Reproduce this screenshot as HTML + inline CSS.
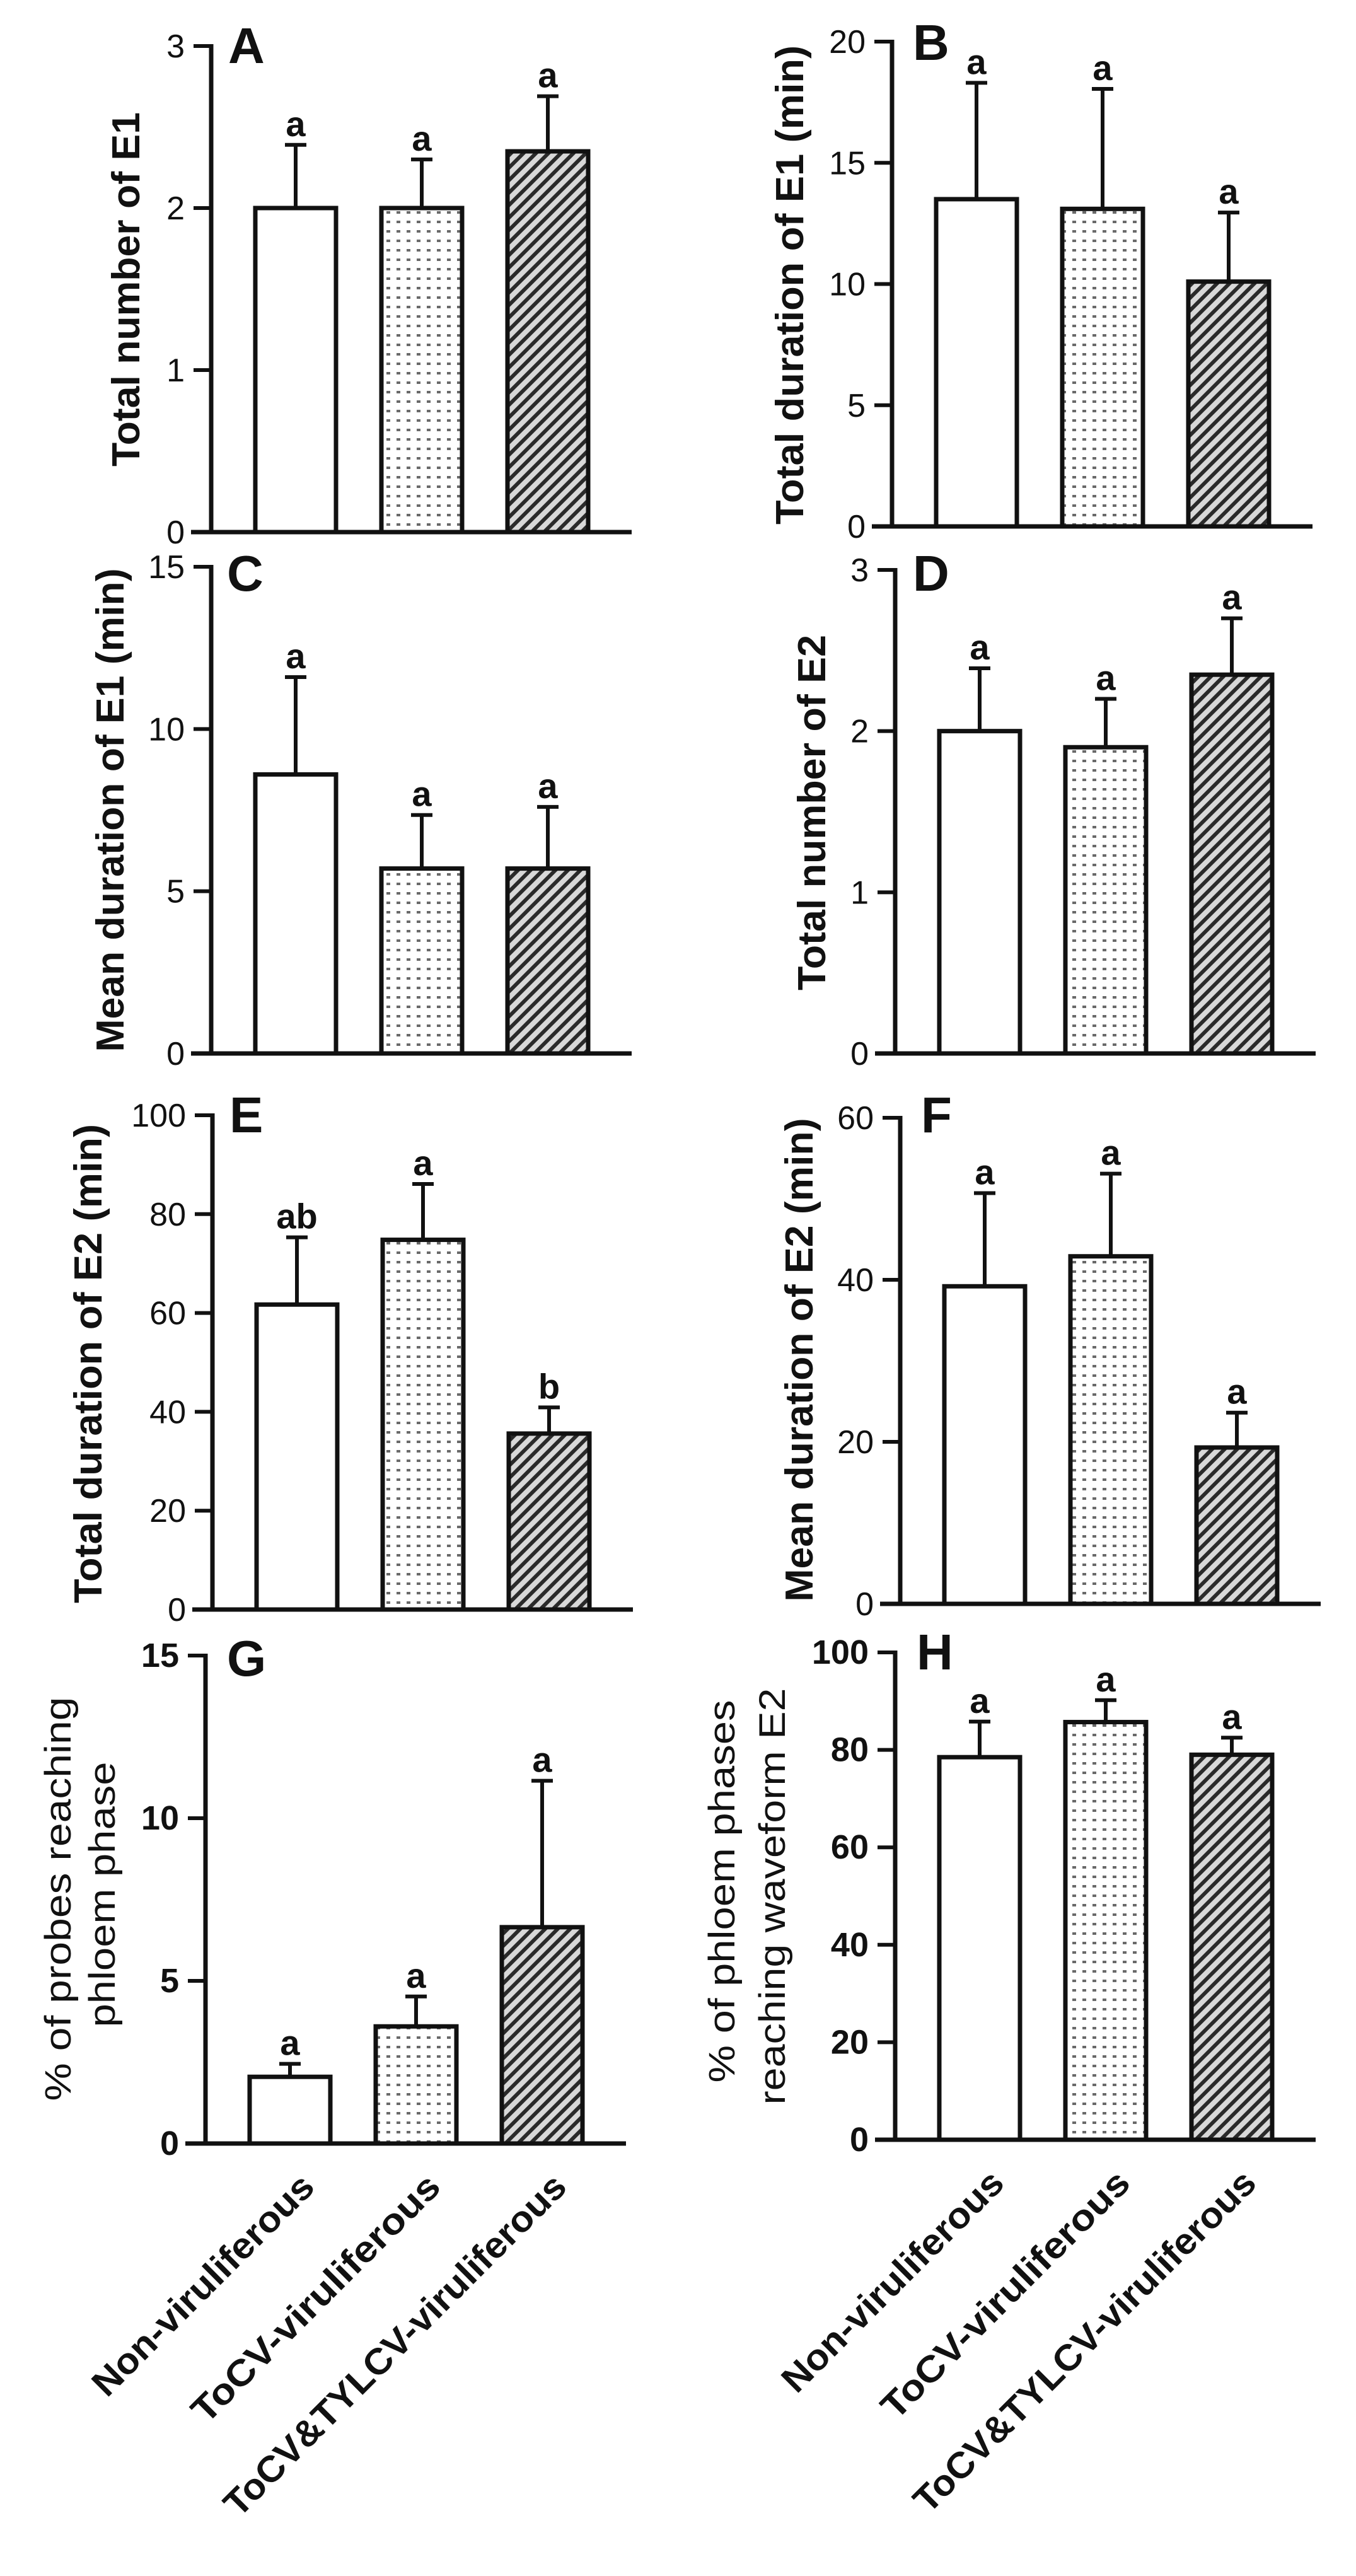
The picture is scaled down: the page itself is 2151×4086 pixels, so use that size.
<!DOCTYPE html>
<html><head><meta charset="utf-8"><style>
html,body{margin:0;padding:0;background:#fff}
svg{display:block}
text{font-family:"Liberation Sans",Arial,sans-serif;fill:#111}
</style></head><body>
<svg id="fig" width="2151" height="4086" viewBox="0 0 2151 4086" xmlns="http://www.w3.org/2000/svg">
<defs>
<pattern id="dots" patternUnits="userSpaceOnUse" width="16" height="15">
<rect x="5" y="5" width="6" height="4" fill="#6a6a6a"/>
</pattern>
<pattern id="hatch" patternUnits="userSpaceOnUse" width="14" height="14" patternTransform="rotate(45)">
<rect width="14" height="14" fill="#d8d8d8"/>
<rect x="0" y="0" width="6" height="14" fill="#2a2a2a"/>
</pattern>
</defs>
</svg>
<script>
const categories = ["Non-viruliferous","ToCV-viruliferous","ToCV&TYLCV-viruliferous"];
const meansA = [2.0, 2.0, 2.35];
const errA = [0.39, 0.30, 0.34];
const lettersA = ["a","a","a"];
const meansB = [13.5, 13.1, 10.1];
const errB = [4.8, 4.95, 2.85];
const lettersB = ["a","a","a"];
const meansC = [8.6, 5.7, 5.7];
const errC = [3.0, 1.65, 1.9];
const lettersC = ["a","a","a"];
const meansD = [2.0, 1.9, 2.35];
const errD = [0.39, 0.3, 0.35];
const lettersD = ["a","a","a"];
const meansE = [61.7, 74.8, 35.6];
const errE = [13.6, 11.3, 5.3];
const lettersE = ["ab","a","b"];
const meansF = [39.2, 42.9, 19.3];
const errF = [11.5, 10.2, 4.3];
const lettersF = ["a","a","a"];
const meansG = [2.05, 3.6, 6.65];
const errG = [0.4, 0.92, 4.5];
const lettersG = ["a","a","a"];
const meansH = [78.5, 85.7, 79.0];
const errH = [7.3, 4.5, 3.5];
const lettersH = ["a","a","a"];
const ticksA = [0,1,2,3];
const ticksB = [0,5,10,15,20];
const ticksC = [0,5,10,15];
const ticksD = [0,1,2,3];
const ticksE = [0,20,40,60,80,100];
const ticksF = [0,20,40,60];
const ticksG = [0,5,10,15];
const ticksH = [0,20,40,60,80,100];

const NS = "http://www.w3.org/2000/svg";
const svg = document.getElementById("fig");
function mk(tag, attrs, parent, txt){
  const e = document.createElementNS(NS, tag);
  for (const k in attrs) e.setAttribute(k, attrs[k]);
  if (txt !== undefined) e.textContent = txt;
  (parent || svg).appendChild(e);
  return e;
}
const fills = ["#fff","url(#dots)","url(#hatch)"];

function panel(cfg){
  const g = mk("g", {});
  
  
  const yMax = cfg.ticks[cfg.ticks.length-1];
  const y = v => cfg.zero - (v / yMax) * (cfg.zero - cfg.top);
  const ax = cfg.ax;
  const bw = 128;
  const barX = i => ax + 70 + i*200;
  cfg.means.forEach((m,i)=>{
    const yt = y(m), ye = y(m + cfg.err[i]);
    const cx = barX(i) + bw/2;
    const eb = mk("line",{x1:cx,y1:yt,x2:cx,y2:ye,stroke:"#111","stroke-width":6},g);
    
    
    const cap = mk("line",{x1:cx-17,y1:ye,x2:cx+17,y2:ye,stroke:"#111","stroke-width":6},g);
    
    
    const r = mk("rect",{x:barX(i),y:yt,width:bw,height:cfg.zero-yt,fill:fills[i],stroke:"#111","stroke-width":7},g);
    
    
    const lt = mk("text",{x:cx,y:ye-14,"text-anchor":"middle","font-size":56,"font-weight":"bold"},g,cfg.letters[i]);
    
    
  });
  const yaxis = mk("line",{x1:ax,y1:cfg.top-3,x2:ax,y2:cfg.zero,stroke:"#111","stroke-width":7},g);
  
  
  const xaxis = mk("line",{x1:ax-32,y1:cfg.zero,x2:ax+667,y2:cfg.zero,stroke:"#111","stroke-width":7},g);
  
  
  cfg.ticks.forEach(t=>{
    const ty = y(t);
    const tk = mk("line",{x1:ax-28,y1:ty,x2:ax,y2:ty,stroke:"#111","stroke-width":6},g);
    
    
    const tl = mk("text",{x:ax-42,y:ty+18,"text-anchor":"end","font-size":cfg.bold?54:52,"font-weight":cfg.bold?"bold":"normal"},g,String(t));
    
    
  });
  const pl = mk("text",{x:cfg.lx,y:cfg.ly,"font-size":80,"font-weight":"bold"},g,cfg.id);
  
  
  cfg.titles.forEach(tt=>{
    const t = mk("text",{x:0,y:0,"text-anchor":"middle","font-size":tt.fs||62,"font-weight":tt.w||"bold",
      textLength:tt.len,lengthAdjust:"spacingAndGlyphs",
      transform:`translate(${tt.x+21},${tt.y}) rotate(-90)`},g,tt.t);
    
    
  });
  if (cfg.xlabels){
    const lens = [470,530,740];
    categories.forEach((c,i)=>{
      const ex = barX(i) + bw/2 + 42, ey = cfg.zero + 72;
      const t = mk("text",{x:0,y:0,"text-anchor":"end","font-size":58,"font-weight":"bold",
        textLength:lens[i],lengthAdjust:"spacingAndGlyphs",
        transform:`translate(${ex},${ey}) rotate(-45)`},g,c);
      
      
    });
  }
}

panel({id:"A",ax:335,top:73,zero:844,ticks:ticksA,means:meansA,err:errA,letters:lettersA,lx:362,ly:100,
  titles:[{t:"Total number of E1",x:200,y:459,len:562}]});
panel({id:"B",ax:1415,top:66,zero:835,ticks:ticksB,means:meansB,err:errB,letters:lettersB,lx:1448,ly:95,
  titles:[{t:"Total duration of E1 (min)",x:1253,y:452,len:760}]});
panel({id:"C",ax:335,top:899,zero:1671,ticks:ticksC,means:meansC,err:errC,letters:lettersC,lx:360,ly:937,
  titles:[{t:"Mean duration of E1 (min)",x:175,y:1285,len:767}]});
panel({id:"D",ax:1420,top:904,zero:1671,ticks:ticksD,means:meansD,err:errD,letters:lettersD,lx:1448,ly:937,
  titles:[{t:"Total number of E2",x:1288,y:1289,len:564}]});
panel({id:"E",ax:337,top:1769,zero:2553,ticks:ticksE,means:meansE,err:errE,letters:lettersE,lx:364,ly:1796,
  titles:[{t:"Total duration of E2 (min)",x:140,y:2163,len:760}]});
panel({id:"F",ax:1428,top:1773,zero:2544,ticks:ticksF,means:meansF,err:errF,letters:lettersF,lx:1461,ly:1796,
  titles:[{t:"Mean duration of E2 (min)",x:1268,y:2157,len:767}]});
panel({id:"G",ax:326,top:2626,zero:3400,ticks:ticksG,means:meansG,err:errG,letters:lettersG,lx:360,ly:2658,bold:true,xlabels:true,
  titles:[{t:"% of probes reaching",x:91,y:3012,len:641,fs:58,w:"normal"},{t:"phloem phase",x:161,y:3005,len:421,fs:58,w:"normal"}]});
panel({id:"H",ax:1420,top:2621,zero:3394,ticks:ticksH,means:meansH,err:errH,letters:lettersH,lx:1454,ly:2648,bold:true,xlabels:true,
  titles:[{t:"% of phloem phases",x:1144,y:3000,len:607,fs:58,w:"normal"},{t:"reaching waveform E2",x:1224,y:3008,len:661,fs:58,w:"normal"}]});
</script>
</body></html>
